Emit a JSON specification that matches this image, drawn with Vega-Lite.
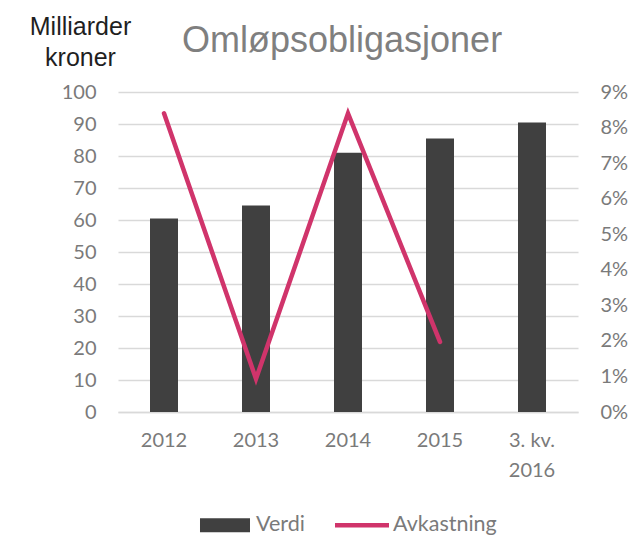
{
  "$schema": "https://vega.github.io/schema/vega-lite/v6.json",
  "autosize": {"type": "none"},
  "width": 460,
  "height": 320,
  "padding": {"left": 118, "top": 92, "right": 58, "bottom": 127},
  "background": "white",
  "title": {
    "text": "Omløpsobligasjoner",
    "font": "Liberation Sans",
    "fontSize": 36,
    "fontWeight": "normal",
    "color": "#7f7f7f",
    "anchor": "start",
    "frame": "group",
    "dx": 64,
    "offset": -46
  },
  "data": {
    "values": [
      {"year": "2012", "verdi": 60.5, "avk": 0.084},
      {"year": "2013", "verdi": 64.5, "avk": 0.0093},
      {"year": "2014", "verdi": 81, "avk": 0.084},
      {"year": "2015", "verdi": 85.5, "avk": 0.0197},
      {"year": "3. kv. 2016", "verdi": 90.5, "avk": null}
    ]
  },
  "config": {
    "view": {"stroke": null},
    "axis": {
      "labelFont": "Lato",
      "labelFontSize": 20,
      "labelColor": "#7a7a7a",
      "ticks": false,
      "domain": false
    }
  },
  "encoding": {
    "x": {
      "field": "year",
      "type": "nominal",
      "sort": null,
      "scale": {"paddingInner": 0, "paddingOuter": 0},
      "axis": {
        "title": null,
        "labelAngle": 0,
        "domain": true,
        "domainColor": "#d9d9d9",
        "domainWidth": 1.3,
        "labelPadding": 18,
        "labelLineHeight": 30,
        "labelExpr": "datum.value === '3. kv. 2016' ? ['3. kv.', '2016'] : datum.value"
      }
    }
  },
  "layer": [
    {
      "mark": {"type": "bar", "size": 28, "color": "#404040"},
      "encoding": {
        "y": {
          "field": "verdi",
          "type": "quantitative",
          "scale": {"domain": [0, 100]},
          "axis": {
            "values": [0, 10, 20, 30, 40, 50, 60, 70, 80, 90, 100],
            "grid": true,
            "gridColor": "#d9d9d9",
            "gridWidth": 1.3,
            "labelPadding": 22,
            "title": ["Milliarder", "kroner"],
            "titleAngle": 0,
            "titleAlign": "center",
            "titleBaseline": "alphabetic",
            "titleX": -38,
            "titleY": -58,
            "titleFont": "Liberation Sans",
            "titleFontSize": 25,
            "titleFontWeight": "normal",
            "titleColor": "#1f1f1f",
            "titleLineHeight": 31
          }
        },
        "color": {
          "datum": "Verdi",
          "scale": {"domain": ["Verdi", "Avkastning"], "range": ["#404040", "#d0346b"]},
          "legend": {
            "title": null,
            "orient": "none",
            "legendX": 80,
            "legendY": 406,
            "direction": "horizontal",
            "columns": 2,
            "columnPadding": 30,
            "symbolSize": 2916,
            "labelFont": "Lato",
            "labelFontSize": 21.5,
            "labelColor": "#7a7a7a",
            "labelOffset": 4,
            "encode": {
              "symbols": {
                "update": {
                  "shape": {"signal": "datum.value === 'Verdi' ? 'M-0.926,-0.26L0.926,-0.26L0.926,0.26L-0.926,0.26Z' : 'M-1,-0.08L1,-0.08L1,0.08L-1,0.08Z'"},
                  "fill": {"signal": "datum.value === 'Verdi' ? '#404040' : '#d0346b'"},
                  "fillOpacity": {"value": 1},
                  "strokeWidth": {"value": 0},
                  "opacity": {"value": 1}
                }
              }
            }
          }
        }
      }
    },
    {
      "mark": {"type": "line", "strokeWidth": 4.5, "strokeCap": "round", "strokeJoin": "miter"},
      "encoding": {
        "y": {
          "field": "avk",
          "type": "quantitative",
          "scale": {"domain": [0, 0.09]},
          "axis": {
            "orient": "right",
            "values": [0, 0.01, 0.02, 0.03, 0.04, 0.05, 0.06, 0.07, 0.08, 0.09],
            "format": ".0%",
            "grid": false,
            "labelPadding": 22,
            "title": null
          }
        },
        "color": {"datum": "Avkastning"}
      }
    }
  ],
  "resolve": {"scale": {"y": "independent"}}
}
